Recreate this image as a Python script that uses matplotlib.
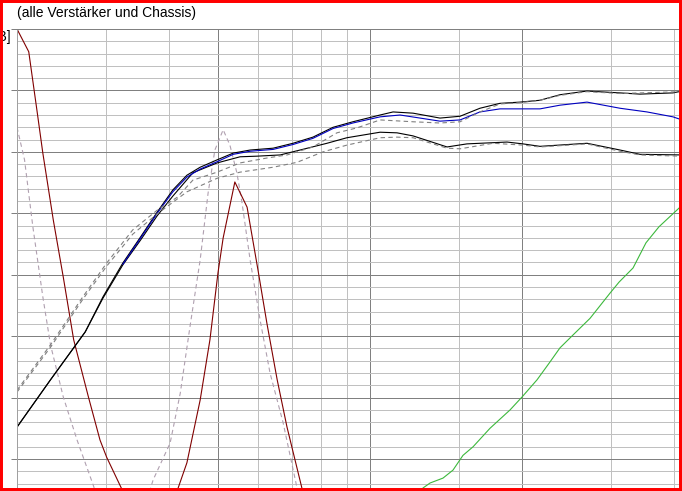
import matplotlib
matplotlib.use("Agg")
import matplotlib.pyplot as plt
from matplotlib.patches import Rectangle
from matplotlib.ticker import NullFormatter
import numpy as np

plt.rcParams['font.family'] = ['Liberation Sans', 'DejaVu Sans']

# Frequenzgang, x in Hz (log), y in dB
titel = "(alle Verstärker und Chassis)"
einheit = "[dB]"

# obere schwarze Kurve
oben_f = [20.0, 23.3, 27.3, 29.6, 32.4, 35.1, 37.9, 40.7, 43.4, 46.1, 49.8, 53.6, 57.9,
          64.3, 70.4, 77.1, 84.5, 92.5, 104.7, 111.1, 121.7, 137.6, 150.8, 165.1, 180.9,
          198.2, 217.1, 237.8, 269.0, 312.7, 342.5, 398.1, 414.8]
oben_db = [-64.8, -57.1, -49.3, -43.6, -38.1, -33.9, -29.8, -26.2, -23.8, -22.5, -21.3,
           -20.2, -19.7, -19.4, -18.6, -17.6, -16.0, -15.1, -14.0, -13.5, -13.7, -14.5,
           -14.2, -12.9, -12.1, -11.9, -11.6, -10.7, -10.1, -10.4, -10.6, -10.4, -10.1]

# blaue Kurve
blau_f = [32.4, 35.1, 37.9, 40.7, 43.4, 46.1, 49.8, 53.6, 57.9, 64.3, 70.4, 77.1, 84.5,
          92.5, 104.7, 114.7, 125.7, 137.6, 150.8, 165.1, 180.9, 217.1, 237.8, 269.0,
          312.7, 353.6, 398.1, 414.8]
blau_db = [-38.3, -34.1, -30.0, -26.5, -24.1, -22.8, -21.6, -20.4, -19.9, -19.6, -18.8,
           -17.8, -16.2, -15.3, -14.3, -14.0, -14.5, -15.0, -14.8, -13.5, -13.0, -13.0,
           -12.4, -11.9, -12.9, -13.5, -14.3, -14.8]

# untere schwarze Kurve
unten_f = [20.0, 23.3, 27.3, 29.6, 32.4, 35.1, 37.9, 40.7, 44.6, 49.8, 55.3, 59.7, 66.4,
           72.7, 82.2, 90.0, 104.7, 113.1, 121.7, 142.1, 155.6, 186.8, 200.9, 217.1,
           269.0, 312.7, 342.5, 414.8]
unten_db = [-64.8, -57.1, -49.3, -43.8, -38.4, -34.4, -30.4, -27.2, -23.4, -21.8, -20.8,
            -20.7, -20.5, -19.7, -18.6, -17.7, -16.8, -16.9, -17.4, -19.2, -18.7, -18.4,
            -18.7, -19.1, -18.6, -19.7, -20.4, -20.5]

# gestrichelte Varianten
str_oben_f = [20.0, 23.3, 27.0, 30.1, 33.9, 37.9, 41.5, 44.6, 49.8, 55.3, 62.5, 68.5, 77.1,
              86.0, 94.2, 104.7, 121.7, 137.6, 150.8, 165.1, 180.9, 198.2, 217.1, 237.8,
              269.0, 312.7, 414.8]
str_oben_db = [-58.8, -51.4, -43.6, -38.1, -32.7, -29.5, -27.4, -24.6, -23.3, -21.8, -21.0,
               -20.5, -19.2, -16.9, -16.1, -14.8, -15.1, -15.3, -15.1, -13.5, -12.2, -12.0,
               -11.6, -10.8, -10.2, -10.5, -10.2]

str_unten_f = [20.0, 23.3, 27.0, 30.1, 33.9, 37.9, 43.4, 49.8, 55.3, 64.3, 71.7, 80.7, 90.0,
               104.7, 113.1, 121.7, 142.1, 150.8, 175.2, 200.9, 217.1, 269.0, 312.7, 342.5,
               414.8]
str_unten_db = [-59.1, -51.8, -44.0, -38.6, -33.4, -30.1, -26.5, -24.3, -23.3, -22.5, -21.7,
                -20.0, -18.9, -17.7, -17.6, -17.7, -19.4, -19.5, -18.6, -18.9, -19.2, -18.7,
                -19.9, -20.5, -20.7]

# dunkelrote Kurven
rot1_f = [20.0, 21.1, 21.9, 22.5, 23.6, 24.7, 25.9, 27.7, 29.2, 30.1, 32.3, 33.8]
rot1_db = [0.0, -3.7, -13.2, -20.2, -31.1, -40.4, -50.6, -59.9, -66.9, -69.7, -75.0, -79.9]

rot2_f = [40.2, 41.7, 43.4, 46.1, 48.2, 50.0, 51.2, 54.0, 57.1, 60.0, 62.5, 65.5, 68.5,
          73.3, 75.0]
rot2_db = [-79.9, -74.7, -70.6, -60.4, -50.6, -39.7, -34.0, -24.9, -29.0, -39.2, -47.9,
           -57.1, -64.8, -74.7, -77.5]

# hellgraue gestrichelte Kurven
hell1_f = [20.0, 20.7, 21.5, 22.5, 23.3, 24.7, 26.3, 28.3, 29.2]
hell1_db = [-16.0, -21.3, -32.2, -43.6, -51.4, -59.9, -66.9, -74.2, -77.5]

hell2_f = [35.9, 37.2, 40.2, 42.1, 44.0, 46.1, 47.8, 49.3, 51.2, 52.8, 54.5, 55.8, 57.9,
           60.6, 63.4, 67.3, 71.7, 72.7]
hell2_db = [-77.5, -73.4, -67.4, -59.3, -48.5, -37.6, -26.7, -19.7, -16.4, -18.9, -23.4,
            -28.3, -37.6, -47.4, -56.0, -64.1, -74.7, -76.7]

# grüne Kurve
gruen_f = [122.8, 127.4, 131.5, 139.5, 146.0, 152.8, 160.0, 172.8, 189.4, 200.0, 214.2,
           227.2, 237.8, 252.4, 272.7, 298.7, 311.3, 331.8, 352.0, 373.4, 414.8]
gruen_db = [-75.9, -74.7, -73.9, -73.1, -71.8, -69.4, -68.0, -65.0, -62.0, -59.9, -57.1,
            -54.2, -51.9, -49.8, -47.1, -43.0, -41.2, -38.9, -34.8, -32.2, -28.7]

x_haupt = [50, 100, 200]
x_neben = [30, 40, 60, 70, 80, 90, 150, 300, 400]

fig = plt.figure(figsize=(6.82, 4.91), dpi=100)
ax = fig.add_axes([17 / 682, 0, 665 / 682, 462 / 491])
ax.set_xscale('log')
ax.set_xlim(20, 414.8)
ax.set_ylim(-75.2, 0)

ax.set_xticks(x_haupt)
ax.set_xticks(x_neben, minor=True)
ax.xaxis.set_major_formatter(NullFormatter())
ax.xaxis.set_minor_formatter(NullFormatter())
ax.set_yticks(np.arange(-70, 1, 10))
ax.set_yticks(np.arange(-74, 0, 2), minor=True)
ax.yaxis.set_major_formatter(NullFormatter())
ax.tick_params(axis='x', which='both', length=0)
ax.tick_params(axis='y', which='major', length=4, width=0.72, color='#808080', direction='out')
ax.tick_params(axis='y', which='minor', length=0)
ax.grid(which='minor', color='#c0c0c0', lw=0.72, antialiased=False)
ax.grid(which='major', color='#808080', lw=0.72, antialiased=False)
ax.set_axisbelow(True)

for s in ['right', 'bottom']:
    ax.spines[s].set_visible(False)
ax.spines['left'].set_color('#a0a0a0')
ax.spines['top'].set_color('#808080')
ax.spines['left'].set_linewidth(0.72)
ax.spines['top'].set_linewidth(0.72)

lw = 0.8
gestrichelt = (0, (4, 3))
ax.plot(hell1_f, hell1_db, color='#b0a0b0', lw=lw, ls=gestrichelt)
ax.plot(hell2_f, hell2_db, color='#b0a0b0', lw=lw, ls=gestrichelt)
ax.plot(rot1_f, rot1_db, color='#800000', lw=lw)
ax.plot(rot2_f, rot2_db, color='#800000', lw=lw)
ax.plot(gruen_f, gruen_db, color='#3cb83c', lw=lw)
ax.plot(unten_f, unten_db, color='black', lw=lw)
ax.plot(oben_f, oben_db, color='black', lw=lw)
ax.plot(blau_f, blau_db, color='#0000c0', lw=lw)
ax.plot(str_unten_f, str_unten_db, color='#808080', lw=lw, ls=gestrichelt)
ax.plot(str_oben_f, str_oben_db, color='#808080', lw=lw, ls=gestrichelt)

fig.text(17 / 682, 1 - 13 / 491, titel, fontsize=10, ha='left', va='center')
# Achsenbeschriftung ist im Original links abgeschnitten
fig.text(11 / 682, 1 - 37 / 491, einheit, fontsize=10, ha='right', va='center')

fig.patches.append(Rectangle((0, 0), 1, 1, transform=fig.transFigure, fill=False,
                             edgecolor='#ff0000', lw=4.3, zorder=10))

fig.savefig("out.png", dpi=100)
